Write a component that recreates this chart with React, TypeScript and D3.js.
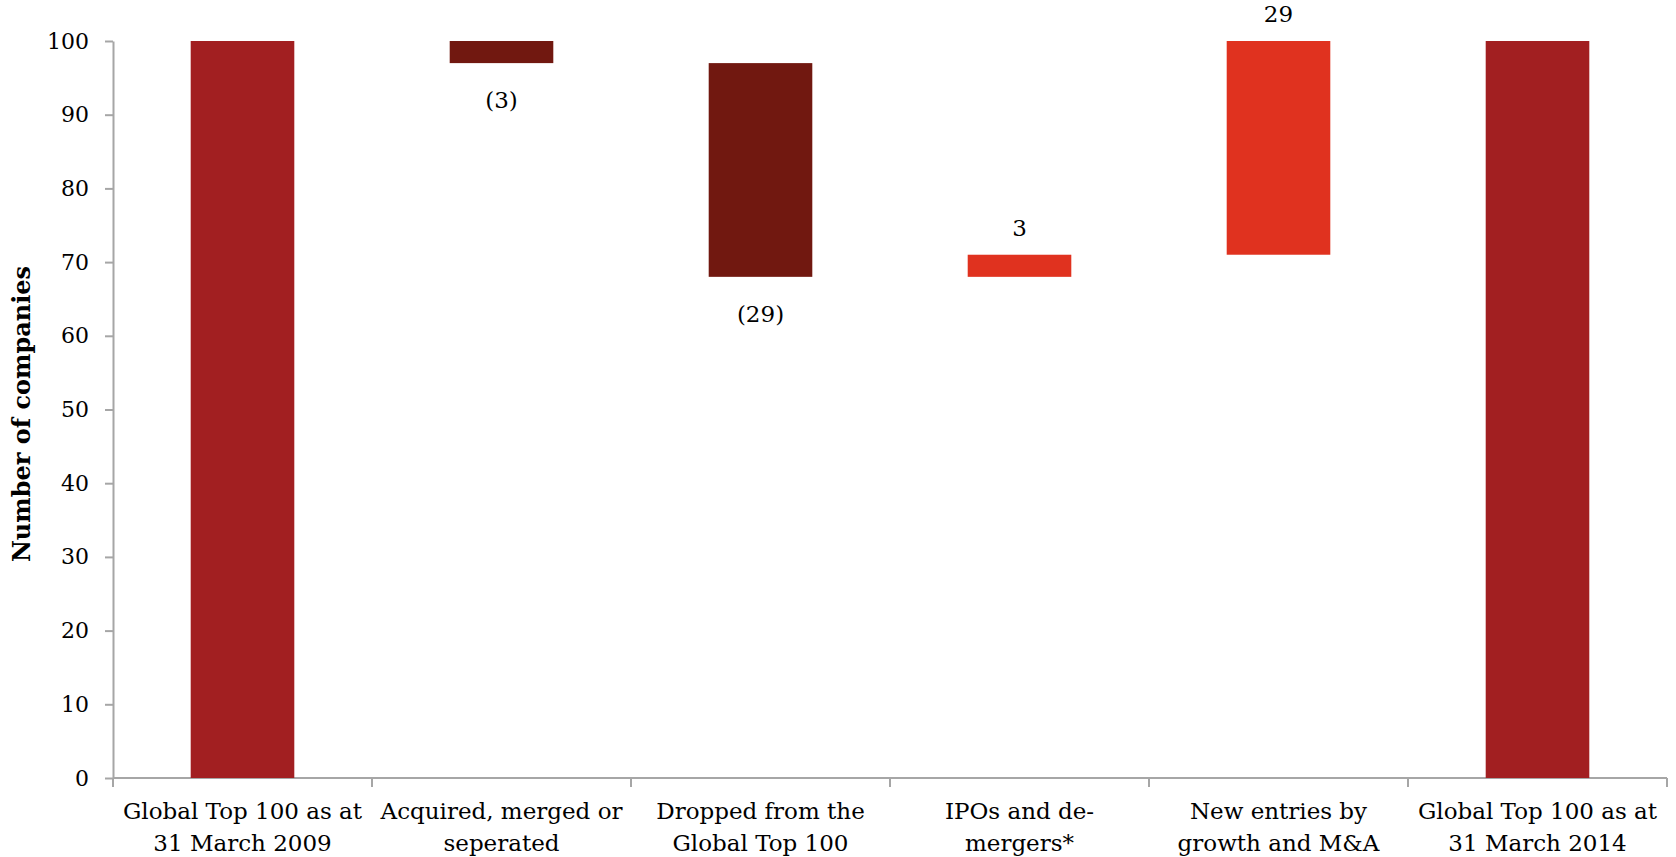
import React, { useEffect, useRef } from 'react';
import * as d3 from 'd3';

// waterfall steps
const categories = [
  ['Global Top 100 as at', '31 March 2009'],
  ['Acquired, merged or', 'seperated'],
  ['Dropped from the', 'Global Top 100'],
  ['IPOs and de-', 'mergers*'],
  ['New entries by', 'growth and M&A'],
  ['Global Top 100 as at', '31 March 2014'],
];
const changes = [100, -3, -29, 3, 29, 100];
const kinds = ['total', 'down', 'down', 'up', 'up', 'total'];
const yTicks = [0, 10, 20, 30, 40, 50, 60, 70, 80, 90, 100];

const colors: Record<string, string> = { total: '#a21f21', down: '#711810', up: '#e0321f' };
const FONT = "Georgia, 'DejaVu Serif', serif";

export default function App() {
  const svgRef = useRef<SVGSVGElement>(null);

  useEffect(() => {
    const width = 1676;
    const height = 857;
    const margin = { top: 41, right: 9, bottom: 79, left: 113 };

    const svg = d3.select(svgRef.current);
    svg.selectAll('*').remove();

    // build the floating bars
    let running = 0;
    const bars = changes.map((v, i) => {
      let lo, hi;
      if (kinds[i] === 'total') {
        lo = 0; hi = v; running = v;
      } else {
        const next = running + v;
        lo = Math.min(running, next); hi = Math.max(running, next);
        running = next;
      }
      return { i, v, lo, hi, kind: kinds[i] };
    });

    const x = d3.scaleBand<number>()
      .domain(d3.range(categories.length))
      .range([margin.left, width - margin.right])
      .paddingInner(0.6)
      .paddingOuter(0.3);

    const y = d3.scaleLinear()
      .domain([0, 100])
      .range([height - margin.bottom, margin.top]);

    // y axis
    const yAxis = svg.append('g')
      .attr('transform', `translate(${margin.left},0)`)
      .call(d3.axisLeft(y).tickValues(yTicks).tickSize(8).tickPadding(16).tickSizeOuter(0));
    yAxis.select('.domain').attr('stroke', '#a6a6a6').attr('stroke-width', 2);
    yAxis.selectAll('.tick line').attr('stroke', '#a6a6a6').attr('stroke-width', 2);
    yAxis.selectAll('.tick text')
      .attr('font-family', FONT).attr('font-size', 22).attr('fill', '#000');

    // x axis with ticks between categories
    const xAxis = svg.append('g').attr('transform', `translate(0,${y(0)})`);
    xAxis.append('line')
      .attr('x1', margin.left).attr('x2', width - margin.right)
      .attr('stroke', '#a6a6a6').attr('stroke-width', 2);
    const step = x.step();
    const bounds = d3.range(categories.length + 1).map(k => margin.left + k * step);
    xAxis.selectAll('line.sep').data(bounds).join('line')
      .attr('class', 'sep')
      .attr('x1', d => d).attr('x2', d => d)
      .attr('y1', 0).attr('y2', 9)
      .attr('stroke', '#a6a6a6').attr('stroke-width', 2);

    const labels = xAxis.selectAll('text.cat').data(categories).join('text')
      .attr('class', 'cat')
      .attr('font-family', FONT).attr('font-size', 23)
      .attr('text-anchor', 'middle')
      .attr('x', (d, i) => x(i)! + x.bandwidth() / 2);
    labels.selectAll('tspan').data(d => d).join('tspan')
      .attr('x', function () { return (this.parentNode as SVGTextElement).getAttribute('x'); })
      .attr('y', (d, j) => 41 + j * 32)
      .text(d => d);

    // bars
    svg.append('g').selectAll('rect').data(bars).join('rect')
      .attr('x', d => x(d.i)!)
      .attr('width', x.bandwidth())
      .attr('y', d => y(d.hi))
      .attr('height', d => y(d.lo) - y(d.hi))
      .attr('fill', d => colors[d.kind]);

    // value labels on the changes
    svg.append('g').selectAll('text').data(bars.filter(d => d.kind !== 'total')).join('text')
      .attr('font-family', FONT).attr('font-size', 23)
      .attr('text-anchor', 'middle')
      .attr('x', d => x(d.i)! + x.bandwidth() / 2)
      .attr('y', d => d.v < 0 ? y(d.lo) + 45 : y(d.hi) - 19)
      .text(d => d.v < 0 ? `(${-d.v})` : `${d.v}`);

    // y axis title
    svg.append('text')
      .attr('font-family', FONT).attr('font-size', 24).attr('font-weight', 'bold')
      .attr('text-anchor', 'middle')
      .attr('transform', `translate(30,414) rotate(-90)`)
      .text('Number of companies');
  }, []);

  return (
    <svg ref={svgRef} width={1676} height={857}
      style={{ position: 'absolute', left: 0, top: 0, background: '#fff' }} />
  );
}
